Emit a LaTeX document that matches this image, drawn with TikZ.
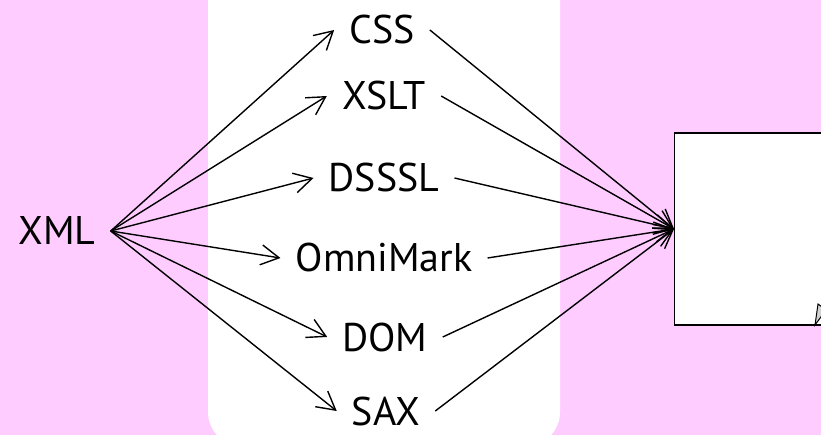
\documentclass[tikz,border=0pt]{standalone}
\usepackage{fontspec}
\setmainfont{PT Sans}
\usetikzlibrary{arrows.meta}
\definecolor{lilac}{RGB}{255,204,255}

\begin{document}
\begin{tikzpicture}[
                x=1pt, y=-1pt,
                every node/.append style={font=\fontsize{40}{46}\selectfont, inner xsep=15pt, inner ysep=0pt},
                flow/.style={-{Straight Barb[length=18pt,width=20pt]}, line width=1.4pt}
            ]
                \useasboundingbox (0,0) rectangle (821,435);
                \fill[lilac] (0,0) rectangle (821,435);
                \fill[white, rounded corners=34pt] (208,-40) rectangle (560,446);
                % target page
                \node (page) [draw, fill=white, line width=1.4pt, minimum width=180pt, minimum height=192pt, anchor=west] at (674,229) {};
                \filldraw[fill=gray!35, line width=1pt] (815,325) -- (818,304) -- (826,310) -- cycle;
                \node (xml)  at (57,231)  {XML};
                \node (css)  at (382,30)  {CSS};
                \node (xslt) at (384,96)  {XSLT};
                \node (dsssl) at (384,178) {DSSSL};
                \node (omni) at (384,258) {OmniMark};
                \node (dom)  at (385,337) {DOM};
                \node (sax)  at (386,411) {SAX};
                \foreach \t in {css,xslt,dsssl,omni,dom,sax} {
                    \draw[flow] (xml.east) -- (\t.west);
                    \draw[flow] (\t.east) -- (page.west);
                }
            \end{tikzpicture}
\end{document}
